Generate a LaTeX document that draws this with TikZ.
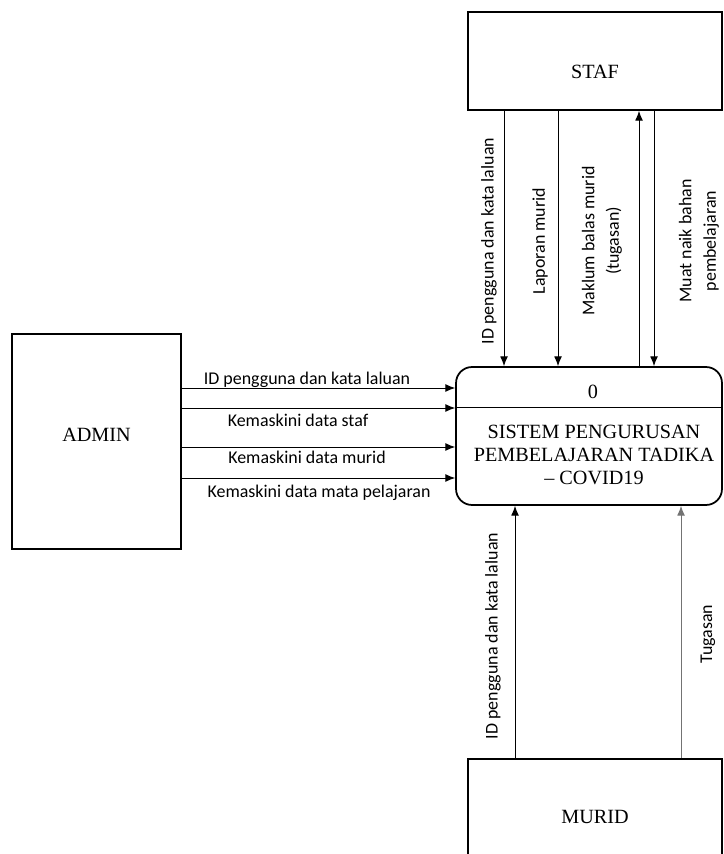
\documentclass[tikz,border=0pt]{standalone}
\usepackage{fontspec}
\setmainfont{Liberation Serif}
\newfontfamily\lblfont{Carlito}
\usetikzlibrary{arrows.meta}

\begin{document}
\begin{tikzpicture}[x=0.02cm,y=-0.02cm,>={Latex[length=5.5pt,width=4.4pt]}]
  \tikzstyle{entity}=[draw,line width=1pt,minimum width=5.08cm,inner sep=0pt,font=\fontsize{11.5}{13}\selectfont]
  \tikzstyle{process}=[draw,line width=1pt,rounded corners=0.32cm,minimum width=5.32cm,minimum height=2.76cm]
  \tikzstyle{lbl}=[inner sep=0pt,font=\lblfont\fontsize{10.2}{14}\selectfont]
  \tikzstyle{flow}=[line width=0.5pt,->]

  \useasboundingbox (0,0) rectangle (723,854);
  \clip (0,0) rectangle (723,854);

  \node[entity,minimum height=1.96cm] (E_staf) at (595,61) {\raisebox{-0.22cm}[\height][\depth]{STAF}};
  \node[entity,minimum width=3.38cm,minimum height=4.3cm] (E_admin) at (96.5,441.5) {\raisebox{0.13cm}[\height][\depth]{ADMIN}};
  \node[entity,minimum height=2.32cm] (E_murid) at (595,817) {MURID};
  \node[process] (P_0) at (589,436) {};
  \node[font=\fontsize{11.5}{13}\selectfont] (P_0n) at (593,392) {0};
  \node[align=center,font=\fontsize{11.5}{13}\selectfont] (P_0t) at (594,455) {SISTEM PENGURUSAN\\PEMBELAJARAN TADIKA\\-- COVID19};
  \draw[line width=0.5pt] (P_0.west |- 0,407) -- (P_0.east |- 0,407);

% staf
  \draw[flow] (E_staf.south -| 504,0) -- (P_0.north -| 504,0);
  \draw[flow] (E_staf.south -| 558,0) -- (P_0.north -| 558,0);
  \draw[flow] (P_0.north -| 639,0) -- (E_staf.south -| 639,0);
  \draw[flow] (E_staf.south -| 654,0) -- (P_0.north -| 654,0);
  \node[lbl,rotate=90] (L_1) at (489,241) {ID pengguna dan kata laluan};
  \node[lbl,rotate=90] (L_2) at (540,241) {Laporan murid};
  \node[lbl,rotate=90,align=center] (L_3) at (602,241) {Maklum balas murid\\(tugasan)};
  \node[lbl,rotate=90,align=center] (L_4) at (699,241) {Muat naik bahan\\pembelajaran};

% admin
  \draw[flow] (E_admin.east |- 0,388) -- (P_0.west |- 0,388);
  \draw[flow] (E_admin.east |- 0,408) -- (P_0.west |- 0,408);
  \draw[flow] (E_admin.east |- 0,447) -- (P_0.west |- 0,447);
  \draw[flow] (E_admin.east |- 0,478) -- (P_0.west |- 0,478);
  \node[lbl] (L_5) at (307,380) {ID pengguna dan kata laluan};
  \node[lbl] (L_6) at (298,420) {Kemaskini data staf};
  \node[lbl] (L_7) at (307,457) {Kemaskini data murid};
  \node[lbl] (L_8) at (319,493) {Kemaskini data mata pelajaran};

% murid
  \draw[flow] (E_murid.north -| 515,0) -- (P_0.south -| 515,0);
  \draw[flow,draw=black!55] (E_murid.north -| 681,0) -- (P_0.south -| 681,0);
  \node[lbl,rotate=90] (L_9) at (493,636) {ID pengguna dan kata laluan};
  \node[lbl,rotate=90] (L_10) at (708,634) {Tugasan};

\end{tikzpicture}
\end{document}
